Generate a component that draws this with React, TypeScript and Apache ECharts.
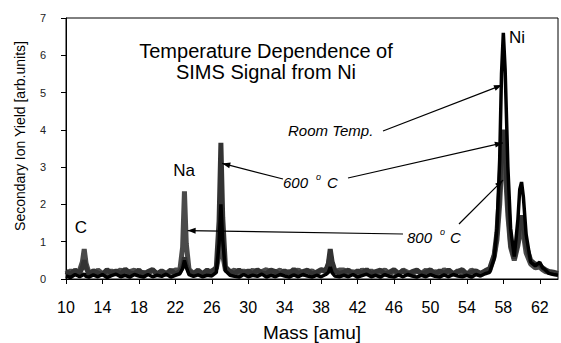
import React, { useEffect, useRef } from "react";
import * as echarts from "echarts";

// Mass axis samples (amu)
const mass = [
  10, 10.5, 11, 11.5, 11.8, 12, 12.2, 12.5, 13, 13.5, 14, 14.5, 15, 15.5, 16, 16.5, 17, 17.5, 18, 18.5, 19, 19.5, 20, 20.5, 21, 21.5, 22, 22.5,
  22.8, 23, 23.2, 23.5, 24, 24.5, 25, 25.5, 26, 26.5, 26.8, 27, 27.2, 27.5, 28, 28.5,
  29, 29.5, 30, 30.5, 31, 31.5, 32, 32.5, 33, 33.5, 34, 34.5, 35, 35.5, 36, 36.5, 37, 37.5, 38, 38.5, 38.8, 39, 39.2, 39.5, 40,
  40.5, 41, 41.5, 42, 42.5, 43, 43.5, 44, 44.5, 45, 45.5, 46, 46.5, 47, 47.5, 48, 48.5, 49, 49.5, 50, 50.5, 51, 51.5, 52, 52.5, 53, 53.5, 54, 54.5, 55, 55.5, 56,
  56.5, 57, 57.3, 57.6, 57.8, 58, 58.2, 58.5, 58.8, 59.2, 59.6, 59.8, 60, 60.2, 60.5, 61, 61.5, 62, 62.3, 62.6, 63, 63.5, 64,
];

const roomTemp = [
  0.08, 0.04, 0.12, 0.06, 0.1, 0.14, 0.07, 0.05, 0.11, 0.06, 0.12, 0.04, 0.09, 0.13, 0.06, 0.1, 0.05, 0.12, 0.08, 0.05, 0.12, 0.06, 0.1, 0.07, 0.13, 0.05, 0.1, 0.14,
  0.28, 0.5, 0.32, 0.12, 0.07, 0.11, 0.06, 0.1, 0.08, 0.18, 0.95, 2.0, 1.05, 0.22, 0.1, 0.07,
  0.05, 0.12, 0.06, 0.1, 0.07, 0.13, 0.05, 0.1, 0.06, 0.12, 0.08, 0.05, 0.11, 0.06, 0.12, 0.08, 0.05, 0.1, 0.06, 0.12, 0.18, 0.32, 0.17, 0.08, 0.06,
  0.1, 0.06, 0.12, 0.05, 0.09, 0.13, 0.06, 0.1, 0.05, 0.12, 0.07, 0.05, 0.11, 0.06, 0.12, 0.08, 0.05, 0.1, 0.06, 0.12, 0.07, 0.05, 0.11, 0.06, 0.12, 0.08, 0.06, 0.1, 0.05, 0.12, 0.08, 0.14,
  0.18, 0.55, 1.35, 3.2, 5.5, 6.6, 5.6, 3.0, 1.35, 0.6, 1.6, 2.4, 2.6, 2.2, 1.2, 0.45, 0.35, 0.45, 0.3, 0.25, 0.15, 0.12, 0.1,
];

const temp600 = [
  0.2, 0.13, 0.24, 0.15, 0.32, 0.5, 0.3, 0.14, 0.22, 0.16, 0.12, 0.25, 0.15, 0.22, 0.13, 0.26, 0.16, 0.14, 0.24, 0.12, 0.2, 0.25, 0.14, 0.22, 0.15, 0.24, 0.13, 0.2,
  0.32, 0.58, 0.38, 0.2, 0.15, 0.22, 0.14, 0.24, 0.16, 0.32, 1.55, 3.65, 1.65, 0.32, 0.2, 0.14,
  0.24, 0.15, 0.22, 0.13, 0.25, 0.16, 0.14, 0.24, 0.2, 0.12, 0.22, 0.15, 0.26, 0.14, 0.2, 0.24, 0.13, 0.18, 0.25, 0.22, 0.42, 0.8, 0.47, 0.22, 0.15,
  0.18, 0.24, 0.13, 0.22, 0.15, 0.25, 0.14, 0.2, 0.24, 0.13, 0.18, 0.25, 0.15, 0.22, 0.12, 0.2, 0.24, 0.14, 0.18, 0.25, 0.13, 0.22, 0.15, 0.24, 0.14, 0.2, 0.25, 0.13, 0.18, 0.22, 0.15, 0.22,
  0.28, 0.65, 1.25, 2.4, 3.6, 4.0, 3.5, 2.0, 0.95, 0.55, 1.0, 1.5, 1.7, 1.5, 0.9, 0.5, 0.4, 0.38, 0.3, 0.25, 0.2, 0.18, 0.15,
];

const temp800 = [
  0.14, 0.22, 0.12, 0.24, 0.46, 0.8, 0.42, 0.18, 0.13, 0.24, 0.15, 0.12, 0.22, 0.14, 0.25, 0.13, 0.2, 0.24, 0.12, 0.18, 0.14, 0.24, 0.13, 0.2, 0.12, 0.18, 0.24, 0.25,
  0.85, 2.35, 0.95, 0.26, 0.14, 0.24, 0.13, 0.18, 0.22, 0.28, 0.65, 1.1, 0.65, 0.24, 0.18, 0.24,
  0.13, 0.22, 0.15, 0.24, 0.12, 0.2, 0.25, 0.14, 0.18, 0.24, 0.13, 0.2, 0.15, 0.25, 0.12, 0.18, 0.22, 0.14, 0.24, 0.2, 0.38, 0.65, 0.42, 0.2, 0.24,
  0.24, 0.14, 0.2, 0.12, 0.25, 0.15, 0.22, 0.13, 0.18, 0.24, 0.14, 0.2, 0.12, 0.24, 0.18, 0.13, 0.22, 0.15, 0.24, 0.12, 0.2, 0.14, 0.25, 0.18, 0.13, 0.22, 0.15, 0.12, 0.24, 0.18, 0.14, 0.2,
  0.22, 0.6, 1.05, 2.0, 3.0, 3.5, 3.0, 1.7, 0.85, 0.5, 0.9, 1.2, 1.35, 1.2, 0.7, 0.4, 0.3, 0.32, 0.25, 0.2, 0.18, 0.15, 0.14,
];

const titleLines = ["Temperature Dependence of", "SIMS Signal from Ni"];
const xAxisTitle = "Mass [amu]";
const yAxisTitle = "Secondary Ion Yield [arb.units]";

const FONT = "'Liberation Sans', Arial, Helvetica, sans-serif";

function pairs(ys: number[]) {
  return mass.map((m, i) => [m, ys[i]]);
}

function arrow(x1: number, y1: number, x2: number, y2: number, head = true) {
  const els: any[] = [
    {
      type: "line",
      shape: { x1, y1, x2, y2 },
      style: { stroke: "#000", lineWidth: 1.2 },
      z: 100,
    },
  ];
  if (head) {
    const dx = x2 - x1;
    const dy = y2 - y1;
    const len = Math.sqrt(dx * dx + dy * dy);
    const ux = dx / len;
    const uy = dy / len;
    const bx = x2 - ux * 8;
    const by = y2 - uy * 8;
    const nx = -uy * 3;
    const ny = ux * 3;
    els.push({
      type: "polygon",
      shape: { points: [[x2, y2], [bx + nx, by + ny], [bx - nx, by - ny]] },
      style: { fill: "#000" },
      z: 100,
    });
  }
  return els;
}

function txt(text: string, x: number, y: number, size: number, opts: any = {}) {
  return {
    type: "text",
    x,
    y,
    rotation: opts.rotation || 0,
    z: 100,
    style: {
      text,
      fill: "#000",
      fontSize: size,
      fontFamily: FONT,
      fontStyle: opts.italic ? "italic" : "normal",
      align: opts.align || "left",
      verticalAlign: "middle",
    },
  };
}

export default function App() {
  const ref = useRef<HTMLDivElement>(null);

  useEffect(() => {
    if (!ref.current) return;
    const chart = echarts.init(ref.current, null, { renderer: "svg" });
    const option: any = {
      animation: false,
      backgroundColor: "#fff",
      textStyle: { fontFamily: FONT },
      grid: {
        left: 66,
        right: 3,
        top: 18,
        bottom: 64,
        show: true,
        borderColor: "#000",
        borderWidth: 1,
        containLabel: false,
        outerBoundsMode: "none",
      },
      xAxis: {
        type: "value",
        min: 10,
        max: 64,
        interval: 4,
        axisLine: { lineStyle: { color: "#000", width: 1 } },
        axisTick: { show: true, length: 5, lineStyle: { color: "#000" } },
        axisLabel: {
          fontSize: 16,
          color: "#000",
          margin: 20,
          showMaxLabel: false,
          fontFamily: FONT,
        },
        splitLine: { show: false },
      },
      yAxis: {
        type: "value",
        min: 0,
        max: 7,
        interval: 1,
        axisLine: { show: true, lineStyle: { color: "#000", width: 1 } },
        axisTick: { show: true, length: 5, lineStyle: { color: "#000" } },
        axisLabel: { fontSize: 11, color: "#222", margin: 20, fontFamily: FONT },
        splitLine: { show: false },
      },
      series: [
        {
          name: "800 o C",
          type: "line",
          data: pairs(temp800),
          showSymbol: false,
          lineStyle: { color: "#4a4a4a", width: 5 },
          z: 2,
        },
        {
          name: "600 o C",
          type: "line",
          data: pairs(temp600),
          showSymbol: false,
          lineStyle: { color: "#333333", width: 5 },
          z: 3,
        },
        {
          name: "Room Temp.",
          type: "line",
          data: pairs(roomTemp),
          showSymbol: false,
          lineStyle: { color: "#000000", width: 3.5 },
          z: 4,
        },
      ],
    };
    chart.setOption(option);

    const px = (m: number, v: number) => chart.convertToPixel({ gridIndex: 0 }, [m, v]) as number[];
    const rt = px(57.85, 5.2);
    const p600a = px(27.15, 3.1);
    const p600b = px(57.95, 3.65);
    const p800a = px(23.35, 1.3);
    const p800b = px(57.95, 2.65);

    const graphic: any[] = [
      txt(titleLines[0], 266, 51, 20, { align: "center" }),
      txt(titleLines[1], 266, 72, 20, { align: "center" }),
      {
        ...txt(yAxisTitle, 20, 136, 14, { align: "center" }),
        rotation: Math.PI / 2,
      },
      txt(xAxisTitle, 312, 332, 19, { align: "center" }),
      txt("C", 81, 227, 17, { align: "center" }),
      txt("Na", 184, 170, 17, { align: "center" }),
      txt("Ni", 517, 37, 17, { align: "center" }),
      txt("Room Temp.", 288, 130, 15, { italic: true }),
      txt("600", 283, 182, 15, { italic: true }),
      txt("o", 316, 177, 9, { italic: true }),
      txt("C", 327, 182, 15, { italic: true }),
      txt("800", 407, 237, 15, { italic: true }),
      txt("o", 440, 232, 9, { italic: true }),
      txt("C", 450, 237, 15, { italic: true }),
      ...arrow(383, 131, rt[0], rt[1]),
      ...arrow(283, 179, p600a[0], p600a[1]),
      ...arrow(348, 178, p600b[0], p600b[1]),
      ...arrow(403, 234, p800a[0], p800a[1]),
      ...arrow(459, 224, p800b[0], p800b[1]),
    ];
    chart.setOption({ graphic });

    return () => chart.dispose();
  }, []);

  return <div ref={ref} style={{ width: 561, height: 343, position: "absolute", left: 0, top: 0 }} />;
}
